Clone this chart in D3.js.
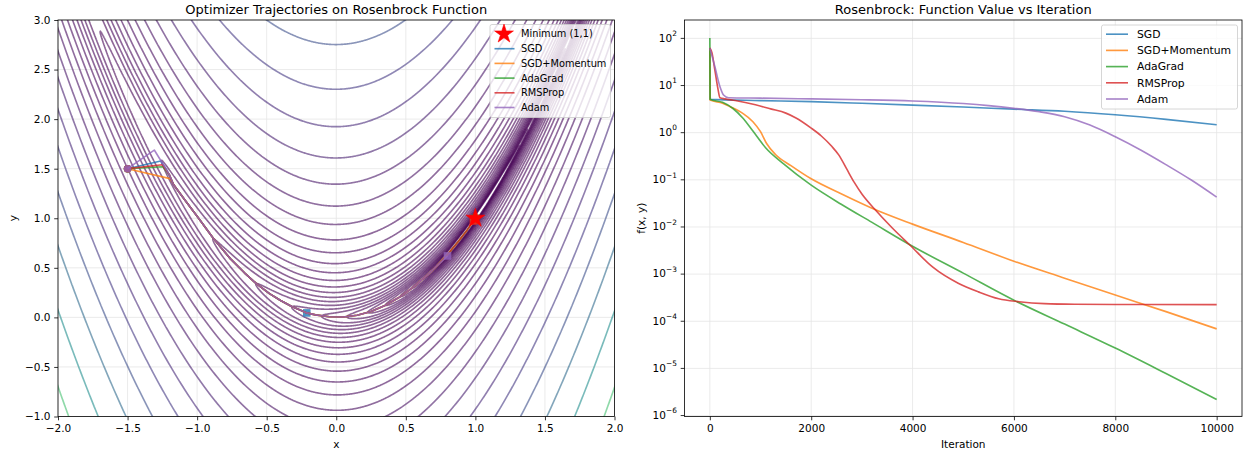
<!DOCTYPE html>
<html><head><meta charset="utf-8">
<script src="https://cdn.jsdelivr.net/npm/d3@7"></script>
<style>body{margin:0;background:#fff} svg text{font-family:"DejaVu Sans",sans-serif;fill:#000}</style>
</head><body><svg id="c" width="1244" height="452"></svg>
<script>
// ---------------- data ----------------
const optimizers = ["SGD", "SGD+Momentum", "AdaGrad", "RMSProp", "Adam"];
const optimizerColors = ["#1f77b4", "#ff7f0e", "#2ca02c", "#d62728", "#9467bd"];
const contourLevels = [0.1, 0.1429, 0.2043, 0.292, 0.4175, 0.5968, 0.8532, 1.2197, 1.7436, 2.4927,
  3.5634, 5.0941, 7.2823, 10.41, 14.882, 21.275, 30.414, 43.479, 62.156, 88.856,
  127.03, 181.59, 259.6, 371.11, 530.53, 758.43, 1084.2, 1550.0, 2215.8, 3162.3];
const leftXTicks = [-2.0, -1.5, -1.0, -0.5, 0.0, 0.5, 1.0, 1.5, 2.0];
const leftYTicks = [-1.0, -0.5, 0.0, 0.5, 1.0, 1.5, 2.0, 2.5, 3.0];
const rightXTicks = [0, 2000, 4000, 6000, 8000, 10000];
const rightYExponents = [-6, -5, -4, -3, -2, -1, 0, 1, 2];
const startPoint = [-1.5, 1.5];
const minimumPoint = [1, 1];

const trajSGD = [[-1.5,1.5],[-1.262,1.578],[-1.22,1.49],[-1.17,1.34],[-1.08,1.17],[-1.0,1.02],[-0.88,0.79],[-0.76,0.59],[-0.66,0.45],[-0.57,0.335],[-0.48,0.24],[-0.40,0.17],[-0.32,0.11],[-0.26,0.075],[-0.212,0.045]];
const trajMomentum = [[-1.5,1.5],[-1.195,1.40],[-1.159,1.32],[-1.08,1.17],[-1.0,1.02],[-0.88,0.79],[-0.76,0.59],[-0.66,0.45],[-0.57,0.335],[-0.48,0.24],[-0.40,0.17],[-0.32,0.11],[-0.26,0.075],[-0.212,0.045],[-0.15,0.025],[-0.05,0.006],[0.05,0.004],[0.15,0.022],[0.25,0.06],[0.35,0.12],[0.45,0.2],[0.55,0.3],[0.65,0.42],[0.72,0.515],[0.8,0.635],[0.88,0.77],[0.94,0.88],[0.99,0.98]];
const trajAdaGrad = [[-1.5,1.5],[-1.246,1.52],[-1.2,1.44],[-1.17,1.34],[-1.08,1.17],[-1.0,1.02],[-0.88,0.79],[-0.76,0.59],[-0.66,0.45],[-0.57,0.335],[-0.48,0.24],[-0.40,0.17],[-0.32,0.11],[-0.26,0.075],[-0.212,0.045],[-0.15,0.025],[-0.05,0.006],[0.05,0.004],[0.15,0.022],[0.25,0.06],[0.35,0.12],[0.45,0.2],[0.55,0.3],[0.65,0.42],[0.72,0.515],[0.8,0.635],[0.88,0.77],[0.94,0.88],[1.0,1.0]];
const trajRMSProp = [[-1.5,1.5],[-1.25,1.54],[-1.2,1.44],[-1.17,1.34],[-1.08,1.17],[-1.0,1.02],[-0.88,0.79],[-0.76,0.59],[-0.66,0.45],[-0.57,0.335],[-0.48,0.24],[-0.40,0.17],[-0.32,0.11],[-0.26,0.075],[-0.212,0.045],[-0.15,0.025],[-0.05,0.006],[0.05,0.004],[0.15,0.022],[0.25,0.06],[0.35,0.12],[0.45,0.2],[0.55,0.3],[0.65,0.42],[0.72,0.515],[0.8,0.635],[0.88,0.77],[0.94,0.88],[0.985,0.97]];
const trajAdam = [[-1.5,1.5],[-1.308,1.688],[-1.238,1.53],[-1.2,1.44],[-1.17,1.34],[-1.08,1.17],[-1.0,1.02],[-0.88,0.79],[-0.76,0.59],[-0.66,0.45],[-0.57,0.335],[-0.48,0.24],[-0.40,0.17],[-0.32,0.11],[-0.26,0.075],[-0.212,0.045],[-0.15,0.025],[-0.05,0.006],[0.05,0.004],[0.15,0.022],[0.25,0.06],[0.35,0.12],[0.45,0.2],[0.55,0.3],[0.65,0.42],[0.72,0.515],[0.8,0.62]];

const lossSGD = [[0,62.5],[8,5.1],[1000,4.8],[2000,4.55],[3000,4.2],[4000,3.85],[5000,3.5],[6000,3.15],[7000,2.85],[8000,2.4],[9000,1.92],[10000,1.47]];
const lossMomentum = [[0,62.5],[6,4.9],[250,4.2],[400,3.56],[650,2.57],[850,1.71],[1000,1.05],[1120,0.59],[1300,0.34],[1600,0.2],[2000,0.105],[2600,0.05],[3200,0.025],[4000,0.0115],[5000,0.0047],[6000,0.00188],[7000,0.00082],[8000,0.00036],[9000,0.00016],[10000,0.000069]];
const lossAdaGrad = [[0,102],[4,5.1],[250,4.4],[450,3.3],[650,2.05],[850,1.08],[1100,0.48],[1450,0.22],[2000,0.077],[2600,0.03],[3200,0.0125],[4000,0.0039],[5000,0.00105],[6000,0.00028],[7000,0.000087],[8000,0.000027],[9000,0.0000078],[10000,0.0000022]];
const lossRMSProp = [[0,62.5],[40,50],[100,21],[160,8.5],[200,5.5],[300,5.2],[500,4.8],[900,3.9],[1200,3.2],[1500,2.6],[1700,2.05],[2000,1.25],[2200,0.85],[2400,0.52],[2550,0.33],[2700,0.17],[2850,0.088],[3000,0.05],[3250,0.024],[3600,0.0095],[3950,0.0041],[4400,0.0014],[4900,0.00064],[5300,0.00042],[5700,0.0003],[6100,0.00026],[6600,0.000236],[7200,0.000229],[8000,0.000227],[10000,0.000226]];
const lossAdam = [[0,62],[100,25],[200,9.4],[270,6.3],[370,5.5],[1000,5.4],[2000,5.2],[3000,5.0],[4000,4.7],[5000,4.15],[5500,3.75],[6000,3.28],[6500,2.78],[7000,2.18],[7500,1.45],[8000,0.82],[8500,0.43],[9000,0.21],[9500,0.099],[10000,0.043]];

const trajectories = [trajSGD, trajMomentum, trajAdaGrad, trajRMSProp, trajAdam];
const losses = [lossSGD, lossMomentum, lossAdaGrad, lossRMSProp, lossAdam];

// ---------------- layout ----------------
const svg = d3.select("#c");
const L = {x0: 58, x1: 614.5, y0: 20, y1: 416.5};
const R = {x0: 684.5, x1: 1242, y0: 20, y1: 416.5};
const FONT = 10.5, TITLE = 13, LEG_R = 10.8, LEG_L = 9.8;
const TICK = 3.8, LW = 1.64;

function rosen(x, y) { return (1 - x) * (1 - x) + 100 * (y - x * x) * (y - x * x); }

// ---------------- left panel ----------------
const xs = d3.scaleLinear().domain([-2, 2]).range([L.x0, L.x1]);
const ys = d3.scaleLinear().domain([-1, 3]).range([L.y1, L.y0]);
const gL = svg.append("g");
const defs = svg.append("defs");
defs.append("clipPath").attr("id", "clipL").append("rect")
  .attr("x", L.x0).attr("y", L.y0).attr("width", L.x1 - L.x0).attr("height", L.y1 - L.y0);

const gridColor = "#e6e6e6";
gL.append("g").selectAll("line").data(leftXTicks).join("line")
  .attr("x1", d => xs(d)).attr("x2", d => xs(d)).attr("y1", L.y0).attr("y2", L.y1)
  .attr("stroke", gridColor).attr("stroke-width", 0.8);
gL.append("g").selectAll("line").data(leftYTicks).join("line")
  .attr("y1", d => ys(d)).attr("y2", d => ys(d)).attr("x1", L.x0).attr("x2", L.x1)
  .attr("stroke", gridColor).attr("stroke-width", 0.8);

// contours of the Rosenbrock surface, grid slightly larger than the view, clipped
const step = 0.005;
const gx0 = -2.05, gyTop = 3.05;
const nx = Math.round(4.1 / step) + 1, ny = Math.round(4.1 / step) + 1;
const values = new Float64Array(nx * ny);
for (let j = 0; j < ny; j++) {
  const y = gyTop - j * step;
  for (let i = 0; i < nx; i++) values[j * nx + i] = rosen(gx0 + i * step, y);
}
const contours = d3.contours().size([nx, ny]).thresholds(contourLevels)(values);
const proj = d3.geoTransform({point(px, py) {
  this.stream.point(xs(gx0 + (px - 0.5) * step), ys(gyTop - (py - 0.5) * step));
}});
const path = d3.geoPath(proj);
const lvMin = d3.min(contourLevels), lvMax = d3.max(contourLevels);
gL.append("g").attr("clip-path", "url(#clipL)").selectAll("path").data(contours).join("path")
  .attr("d", path).attr("fill", "none")
  .attr("stroke", d => d3.interpolateViridis((d.value - lvMin) / (lvMax - lvMin)))
  .attr("stroke-opacity", 0.6).attr("stroke-width", LW).attr("stroke-linejoin", "round");

// trajectories
const trajLine = d3.line().x(d => xs(d[0])).y(d => ys(d[1]));
const gT = gL.append("g").attr("clip-path", "url(#clipL)");
trajectories.forEach((t, k) => {
  gT.append("path").attr("d", trajLine(t)).attr("fill", "none")
    .attr("stroke", optimizerColors[k]).attr("stroke-width", LW).attr("stroke-opacity", 0.8)
    .attr("stroke-linejoin", "round");
  gT.append("circle").attr("cx", xs(t[0][0])).attr("cy", ys(t[0][1])).attr("r", 3.8)
    .attr("fill", optimizerColors[k]).attr("fill-opacity", 0.8);
  const e = t[t.length - 1];
  gT.append("rect").attr("x", xs(e[0]) - 3.8).attr("y", ys(e[1]) - 3.8).attr("width", 7.6).attr("height", 7.6)
    .attr("fill", optimizerColors[k]).attr("fill-opacity", 0.8);
});
const star = d3.symbol().type(d3.symbolStar).size(110);
gT.append("path").attr("d", star()).attr("transform", `translate(${xs(minimumPoint[0])},${ys(minimumPoint[1])})`)
  .attr("fill", "red").attr("stroke", "red").attr("stroke-width", 0.6);

gL.append("rect").attr("x", L.x0).attr("y", L.y0).attr("width", L.x1 - L.x0).attr("height", L.y1 - L.y0)
  .attr("fill", "none").attr("stroke", "#000").attr("stroke-width", 0.8);

const fmt1 = d3.format(".1f");
const axL_x = gL.append("g").attr("transform", `translate(0,${L.y1})`)
  .call(d3.axisBottom(xs).tickValues(leftXTicks).tickFormat(fmt1).tickSize(TICK).tickPadding(3.8).tickSizeOuter(0));
const axL_y = gL.append("g").attr("transform", `translate(${L.x0},0)`)
  .call(d3.axisLeft(ys).tickValues(leftYTicks).tickFormat(fmt1).tickSize(TICK).tickPadding(3.8).tickSizeOuter(0));
[axL_x, axL_y].forEach(a => {
  a.select(".domain").remove();
  a.selectAll("line").attr("stroke", "#000").attr("stroke-width", 0.8);
  a.selectAll("text").attr("font-size", FONT).attr("font-family", "DejaVu Sans");
});

gL.append("text").attr("x", (L.x0 + L.x1) / 2).attr("y", 14).attr("text-anchor", "middle")
  .attr("font-size", TITLE).text("Optimizer Trajectories on Rosenbrock Function");
gL.append("text").attr("x", (L.x0 + L.x1) / 2).attr("y", 448).attr("text-anchor", "middle")
  .attr("font-size", FONT).text("x");
gL.append("text").attr("transform", `translate(17,${(L.y0 + L.y1) / 2}) rotate(-90)`).attr("text-anchor", "middle")
  .attr("font-size", FONT).text("y");

// left legend
{
  const lg = gL.append("g");
  const bx = 490, by = 24.5, bw = 120.5, bh = 93;
  lg.append("rect").attr("x", bx).attr("y", by).attr("width", bw).attr("height", bh).attr("rx", 2)
    .attr("fill", "#fff").attr("fill-opacity", 0.8).attr("stroke", "#cccccc").attr("stroke-width", 0.8);
  const rows = [34, 48.7, 63.4, 78.1, 92.8, 107.5];
  lg.append("path").attr("d", star()).attr("transform", `translate(504,${rows[0]})`)
    .attr("fill", "red").attr("stroke", "red").attr("stroke-width", 0.6);
  lg.append("text").attr("x", 521).attr("y", rows[0]).attr("dy", "0.35em").attr("font-size", LEG_L).text("Minimum (1,1)");
  optimizers.forEach((name, k) => {
    lg.append("line").attr("x1", 494.5).attr("x2", 514.5).attr("y1", rows[k + 1]).attr("y2", rows[k + 1])
      .attr("stroke", optimizerColors[k]).attr("stroke-width", LW).attr("stroke-opacity", 0.8);
    lg.append("text").attr("x", 521).attr("y", rows[k + 1]).attr("dy", "0.35em").attr("font-size", LEG_L).text(name);
  });
}

// ---------------- right panel ----------------
const xr = d3.scaleLinear().domain([-500, 10500]).range([R.x0, R.x1]);
const yr = d3.scaleLog().domain([Math.pow(10, -6.02), Math.pow(10, 2.39)]).range([R.y1, R.y0]);
const gR = svg.append("g");
defs.append("clipPath").attr("id", "clipR").append("rect")
  .attr("x", R.x0).attr("y", R.y0).attr("width", R.x1 - R.x0).attr("height", R.y1 - R.y0);

gR.append("g").selectAll("line").data(rightXTicks).join("line")
  .attr("x1", d => xr(d)).attr("x2", d => xr(d)).attr("y1", R.y0).attr("y2", R.y1)
  .attr("stroke", gridColor).attr("stroke-width", 0.8);
gR.append("g").selectAll("line").data(rightYExponents).join("line")
  .attr("y1", d => yr(Math.pow(10, d))).attr("y2", d => yr(Math.pow(10, d))).attr("x1", R.x0).attr("x2", R.x1)
  .attr("stroke", gridColor).attr("stroke-width", 0.8);

const lossLine = d3.line().x(d => xr(d[0])).y(d => yr(d[1])).curve(d3.curveMonotoneX);
const gLines = gR.append("g").attr("clip-path", "url(#clipR)");
losses.forEach((s, k) => {
  gLines.append("path").attr("d", lossLine(s)).attr("fill", "none")
    .attr("stroke", optimizerColors[k]).attr("stroke-width", LW).attr("stroke-opacity", 0.8)
    .attr("stroke-linejoin", "round");
});

gR.append("rect").attr("x", R.x0).attr("y", R.y0).attr("width", R.x1 - R.x0).attr("height", R.y1 - R.y0)
  .attr("fill", "none").attr("stroke", "#000").attr("stroke-width", 0.8);

const axR_x = gR.append("g").attr("transform", `translate(0,${R.y1})`)
  .call(d3.axisBottom(xr).tickValues(rightXTicks).tickFormat(d3.format("d")).tickSize(TICK).tickPadding(3.8).tickSizeOuter(0));
axR_x.select(".domain").remove();
axR_x.selectAll("line").attr("stroke", "#000").attr("stroke-width", 0.8);
axR_x.selectAll("text").attr("font-size", FONT).attr("font-family", "DejaVu Sans");

const yt = gR.append("g");
rightYExponents.forEach(e => {
  const py = yr(Math.pow(10, e));
  yt.append("line").attr("x1", R.x0 - TICK).attr("x2", R.x0).attr("y1", py).attr("y2", py)
    .attr("stroke", "#000").attr("stroke-width", 0.8);
  const t = yt.append("text").attr("x", R.x0 - 7.6).attr("y", py).attr("dy", "0.32em")
    .attr("text-anchor", "end").attr("font-size", FONT);
  t.append("tspan").text("10");
  t.append("tspan").attr("font-size", 7.4).attr("dy", "-0.75em").text(e < 0 ? "\u2212" + Math.abs(e) : String(e));
});

gR.append("text").attr("x", (R.x0 + R.x1) / 2).attr("y", 14).attr("text-anchor", "middle")
  .attr("font-size", TITLE).text("Rosenbrock: Function Value vs Iteration");
gR.append("text").attr("x", (R.x0 + R.x1) / 2).attr("y", 448).attr("text-anchor", "middle")
  .attr("font-size", FONT).text("Iteration");
gR.append("text").attr("transform", `translate(645,${(R.y0 + R.y1) / 2}) rotate(-90)`).attr("text-anchor", "middle")
  .attr("font-size", FONT).text("f(x, y)");

// right legend
{
  const lg = gR.append("g");
  const bx = 1101.5, by = 25, bw = 136, bh = 84;
  lg.append("rect").attr("x", bx).attr("y", by).attr("width", bw).attr("height", bh).attr("rx", 2)
    .attr("fill", "#fff").attr("fill-opacity", 0.8).attr("stroke", "#cccccc").attr("stroke-width", 0.8);
  const rows = [34.2, 50.4, 66.6, 82.8, 99.0];
  optimizers.forEach((name, k) => {
    lg.append("line").attr("x1", 1106).attr("x2", 1128).attr("y1", rows[k]).attr("y2", rows[k])
      .attr("stroke", optimizerColors[k]).attr("stroke-width", LW).attr("stroke-opacity", 0.8);
    lg.append("text").attr("x", 1137).attr("y", rows[k]).attr("dy", "0.35em").attr("font-size", LEG_R).text(name);
  });
}
</script></body></html>
